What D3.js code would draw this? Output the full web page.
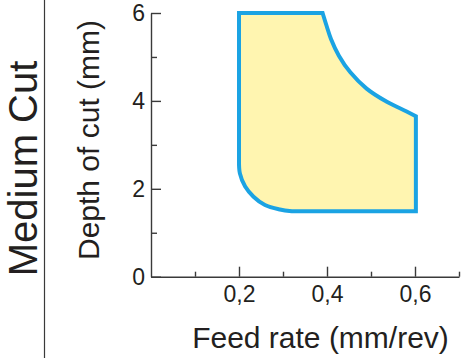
<!DOCTYPE html>
<html>
<head>
<meta charset="utf-8">
<script src="https://cdn.jsdelivr.net/npm/d3@7"></script>
<style>
  html, body { margin: 0; padding: 0; background: #fff; }
  svg { display: block; }
  text { font-family: "Liberation Sans", Arial, sans-serif; fill: #231f20; }
</style>
</head>
<body>
<svg id="chart" width="465" height="358"></svg>
<script>
// ---- data ----
const xMajorTicks = [0.2, 0.4, 0.6];
const xMinorTicks = [0.1, 0.3, 0.5, 0.7];
const yMajorTicks = [0, 2, 4, 6];
const yMinorTicks = [1, 3, 5];

// application envelope (feed rate mm/rev, depth of cut mm)
const topEdgeFeed = [0.2, 0.39];
const topEdgeDepth = [6.0, 6.0];
const upperCurveFeed = [0.39, 0.399, 0.409, 0.427, 0.453, 0.490, 0.536, 0.581, 0.602];
const upperCurveDepth = [6.0, 5.71, 5.41, 5.03, 4.65, 4.28, 3.98, 3.76, 3.65];
const rightEdgeFeed = [0.602, 0.602, 0.320];
const rightEdgeDepth = [3.65, 1.49, 1.49];
const lowerCurveFeed = [0.320, 0.293, 0.259, 0.233, 0.214, 0.202, 0.2];
const lowerCurveDepth = [1.49, 1.53, 1.63, 1.82, 2.05, 2.35, 2.65];

const xTitle = "Feed rate (mm/rev)";
const yTitle = "Depth of cut (mm)";
const sideTitle = "Medium Cut";

// ---- drawing ----
const svg = d3.select("#chart");
const x = d3.scaleLinear().domain([0, 0.7]).range([151, 459]);
const y = d3.scaleLinear().domain([0, 6]).range([276.7, 13]);

// left separator line
svg.append("line")
  .attr("x1", 44.5).attr("x2", 44.5).attr("y1", 0).attr("y2", 358)
  .attr("stroke", "#3a3a3a").attr("stroke-width", 1.2);

// envelope
const zip = (a, b) => a.map((v, i) => [v, b[i]]);
const lin = d3.line().x(d => x(d[0])).y(d => y(d[1]));
const smooth = d3.line().x(d => x(d[0])).y(d => y(d[1])).curve(d3.curveCatmullRom.alpha(0.5));
let pathD = lin(zip(topEdgeFeed, topEdgeDepth));
pathD += smooth(zip(upperCurveFeed, upperCurveDepth)).replace(/^M/, "L");
pathD += lin(zip(rightEdgeFeed, rightEdgeDepth)).replace(/^M/, "L");
pathD += smooth(zip(lowerCurveFeed, lowerCurveDepth)).replace(/^M/, "L");
pathD += "Z";
svg.append("path")
  .attr("d", pathD)
  .attr("fill", "#fff5b0")
  .attr("stroke", "#1ba3e3")
  .attr("stroke-width", 4)
  .attr("stroke-linejoin", "miter");

// y axis
svg.append("g").attr("transform", "translate(151,0)")
  .call(d3.axisLeft(y).tickValues(yMajorTicks).tickSizeInner(-10).tickSizeOuter(0).tickPadding(6)
    .tickFormat(d3.format("d")));
svg.append("g").attr("transform", "translate(151,0)")
  .call(d3.axisLeft(y).tickValues(yMinorTicks).tickSizeInner(-6).tickSizeOuter(0).tickFormat(""))
  .select(".domain").remove();

// x axis
svg.append("g").attr("transform", "translate(0,276.7)")
  .call(d3.axisBottom(x).tickValues(xMajorTicks).tickSizeInner(-10).tickSizeOuter(0).tickPadding(9)
    .tickFormat(d => d3.format(".1f")(d).replace(".", ",")));
svg.append("g").attr("transform", "translate(0,276.7)")
  .call(d3.axisBottom(x).tickValues(xMinorTicks).tickSizeInner(-5).tickSizeOuter(0).tickFormat(""))
  .select(".domain").remove();

svg.selectAll(".domain, .tick line").attr("stroke", "#3a3a3a").attr("stroke-width", 1.4);
svg.selectAll(".tick text")
  .attr("font-size", 23)
  .attr("font-family", "'Liberation Sans', Arial, sans-serif")
  .attr("fill", "#231f20");

// titles
svg.append("text")
  .attr("x", 320.5).attr("y", 348)
  .attr("text-anchor", "middle")
  .attr("font-size", 30)
  .text(xTitle);

svg.append("text")
  .attr("transform", "translate(99,140) rotate(-90)")
  .attr("text-anchor", "middle")
  .attr("font-size", 30)
  .text(yTitle);

svg.append("text")
  .attr("transform", "translate(37,168.5) rotate(-90)")
  .attr("text-anchor", "middle")
  .attr("font-size", 40)
  .text(sideTitle);
</script>
</body>
</html>
